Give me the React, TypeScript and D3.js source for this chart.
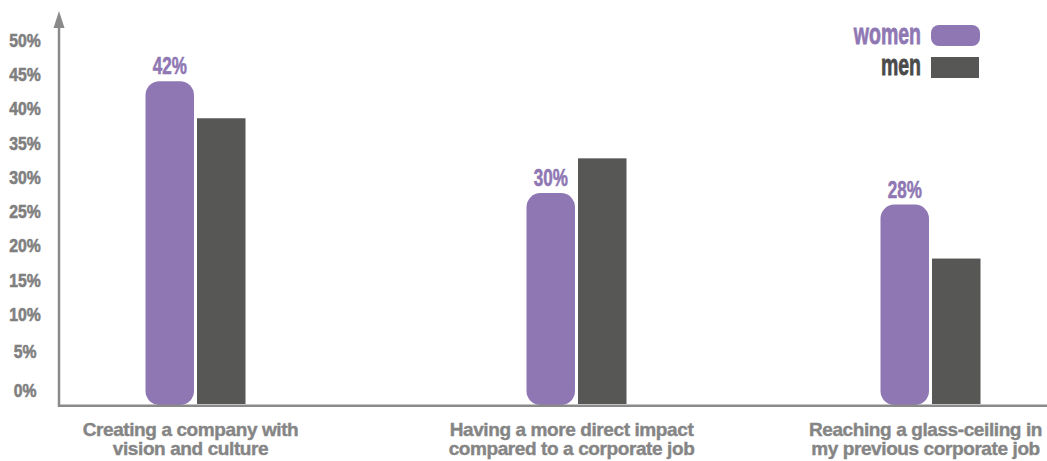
import React from "react";
import * as d3 from "d3";

const categories = [
  ["Creating a company with", "vision and culture"],
  ["Having a more direct impact", "compared to a corporate job"],
  ["Reaching a glass-ceiling in", "my previous corporate job"],
];
const categoryKeys = ["vision", "impact", "ceiling"];
const womenValues = [42, 27.5, 26];
const menValues = [37.2, 32, 19];
const womenLabels = ["42%", "30%", "28%"];
const tickValues = [0, 5, 10, 15, 20, 25, 30, 35, 40, 45, 50];
const seriesNames = ["women", "men"];

const W = 1047;
const H = 461;
const PURPLE = "#8f77b3";
const DARK = "#575756";
const GREY = "#858585";
const FONT = "'Liberation Sans', Arial, sans-serif";

export default function App() {
  const baseY = 405;
  const axisX = 59;
  const y = d3.scaleLinear().domain([0, 50]).range([baseY, 19.6]);
  const tickY = d3.scaleLinear().domain([0, 5, 10, 50]).range([390, 351, 314, 40]);
  const x = d3.scaleOrdinal<string, number>().domain(categoryKeys).range([195.5, 576.5, 930.5]);
  const inner = d3.scaleBand<string>().domain(seriesNames).range([-50, 50]).paddingInner(0.0583);
  const bw = inner.bandwidth();

  return (
    <svg
      width={W}
      height={H}
      style={{ position: "absolute", left: 0, top: 0, background: "#fff" }}
      fontFamily={FONT}
    >
      {/* bars */}
      {categoryKeys.map((k, i) => {
        const cx = x(k);
        const wx = cx + (inner("women") as number);
        const mx = cx + (inner("men") as number);
        const wTop = y(womenValues[i]);
        const mTop = y(menValues[i]);
        return (
          <g key={k}>
            <rect x={wx} y={wTop} width={bw} height={baseY - wTop} rx={14} ry={14} fill={PURPLE} />
            <rect x={mx} y={mTop} width={bw} height={baseY - 1 - mTop} fill={DARK} />
            <text
              transform={`translate(${wx + bw / 2},${wTop - 7}) scale(0.71,1)`}
              textAnchor="middle"
              fontSize={24}
              fontWeight="bold"
              fill={PURPLE}
              stroke={PURPLE}
              strokeWidth={0.6}
            >
              {womenLabels[i]}
            </text>
            {categories[i].map((line, j) => (
              <text
                key={j}
                x={cx - 5}
                y={436 + j * 19}
                textAnchor="middle"
                fontSize={19}
                fontWeight="bold"
                letterSpacing={-0.4}
                fill={GREY}
                stroke={GREY}
                strokeWidth={0.4}
              >
                {line}
              </text>
            ))}
          </g>
        );
      })}

      {/* axes */}
      <line x1={axisX} x2={W} y1={baseY + 0.8} y2={baseY + 0.8} stroke="#8a8a8a" strokeWidth={2.5} />
      <line x1={axisX} x2={axisX} y1={20} y2={baseY + 2} stroke="#8a8a8a" strokeWidth={2.5} />
      <path d={`M${axisX},11 L${axisX + 5.5},28 L${axisX - 5.5},28 Z`} fill="#8a8a8a" />

      {tickValues.map((t) => (
        <text
          key={t}
          transform={`translate(25,${tickY(t) + 6.8}) scale(0.83,1)`}
          textAnchor="middle"
          fontSize={19}
          fontWeight="bold"
          fill="#7f7f7f"
          stroke="#7f7f7f"
          strokeWidth={0.6}
        >
          {`${t}%`}
        </text>
      ))}

      {/* legend */}
      <rect x={931} y={25} width={49} height={21} rx={8} ry={8} fill={PURPLE} />
      <rect x={931} y={57} width={48} height={21} fill={DARK} />
      <text
        transform={`translate(921,43.5) scale(0.65,1)`}
        textAnchor="end"
        fontSize={30}
        fontWeight="bold"
        fill={PURPLE}
        stroke={PURPLE}
        strokeWidth={0.8}
      >
        {seriesNames[0]}
      </text>
      <text
        transform={`translate(921,75) scale(0.65,1)`}
        textAnchor="end"
        fontSize={30}
        fontWeight="bold"
        fill="#4a4a4a"
        stroke="#4a4a4a"
        strokeWidth={0.8}
      >
        {seriesNames[1]}
      </text>
    </svg>
  );
}
